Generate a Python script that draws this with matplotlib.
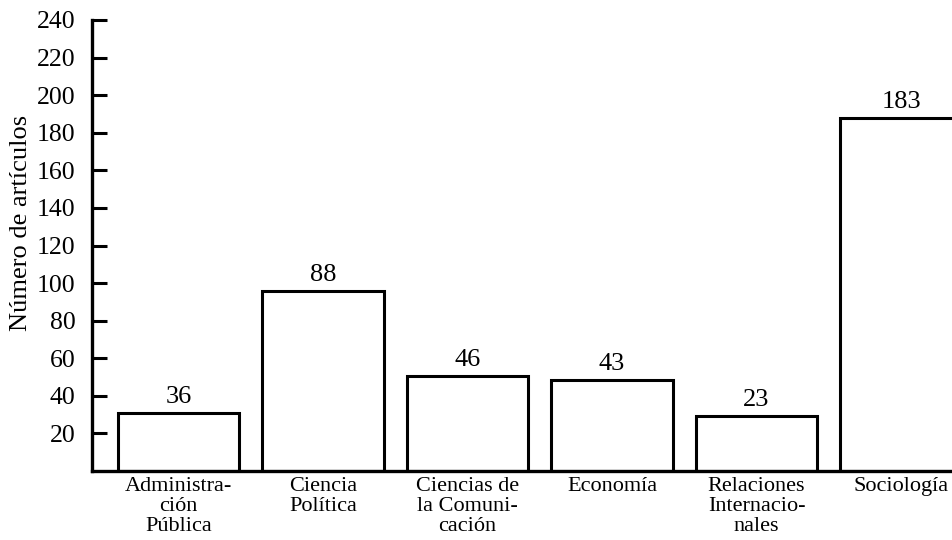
import matplotlib.pyplot as plt
import numpy as np

# categorías del eje horizontal
categorias = ['Administra-\nción\nPública', 'Ciencia\nPolítica', 'Ciencias de\nla Comuni-\ncación',
              'Economía', 'Relaciones\nInternacio-\nnales', 'Sociología']
alturas = [31, 96, 50.5, 48.5, 29.5, 188]
# número impreso encima de cada barra
etiquetas = [36, 88, 46, 43, 23, 183]
ticks_y = [20, 40, 60, 80, 100, 120, 140, 160, 180, 200, 220, 240]

plt.rcParams['font.family'] = ['Liberation Serif', 'DejaVu Serif']

fig = plt.figure(figsize=(9.53, 5.4), dpi=100)
ax = fig.add_axes([92 / 953, (540 - 471) / 540, (953 - 92) / 953, (471 - 20) / 540])

xs = np.arange(len(categorias))
barras = ax.bar(xs, alturas, width=0.84, color='white', edgecolor='black', linewidth=2.2)

for x, h, t in zip(xs, alturas, etiquetas):
    ax.text(x, h + 2.5, str(t), ha='center', va='bottom', fontsize=19)

ax.set_xlim(-0.6, 5.36)
ax.set_ylim(0, 240)
ax.set_yticks(ticks_y)
ax.tick_params(axis='y', direction='in', length=11, width=2.2, pad=12, labelsize=18.5)
ax.set_xticks(xs)
ax.set_xticklabels(categorias, fontsize=16, linespacing=1.1)
ax.tick_params(axis='x', length=0, pad=4)

ax.spines['top'].set_visible(False)
ax.spines['right'].set_visible(False)
ax.spines['left'].set_linewidth(2.4)
ax.spines['bottom'].set_linewidth(2.4)

ax.set_ylabel('Número de artículos', fontsize=19)
ax.yaxis.set_label_coords(-0.07, 0.55)

fig.savefig('out.png', dpi=100)
